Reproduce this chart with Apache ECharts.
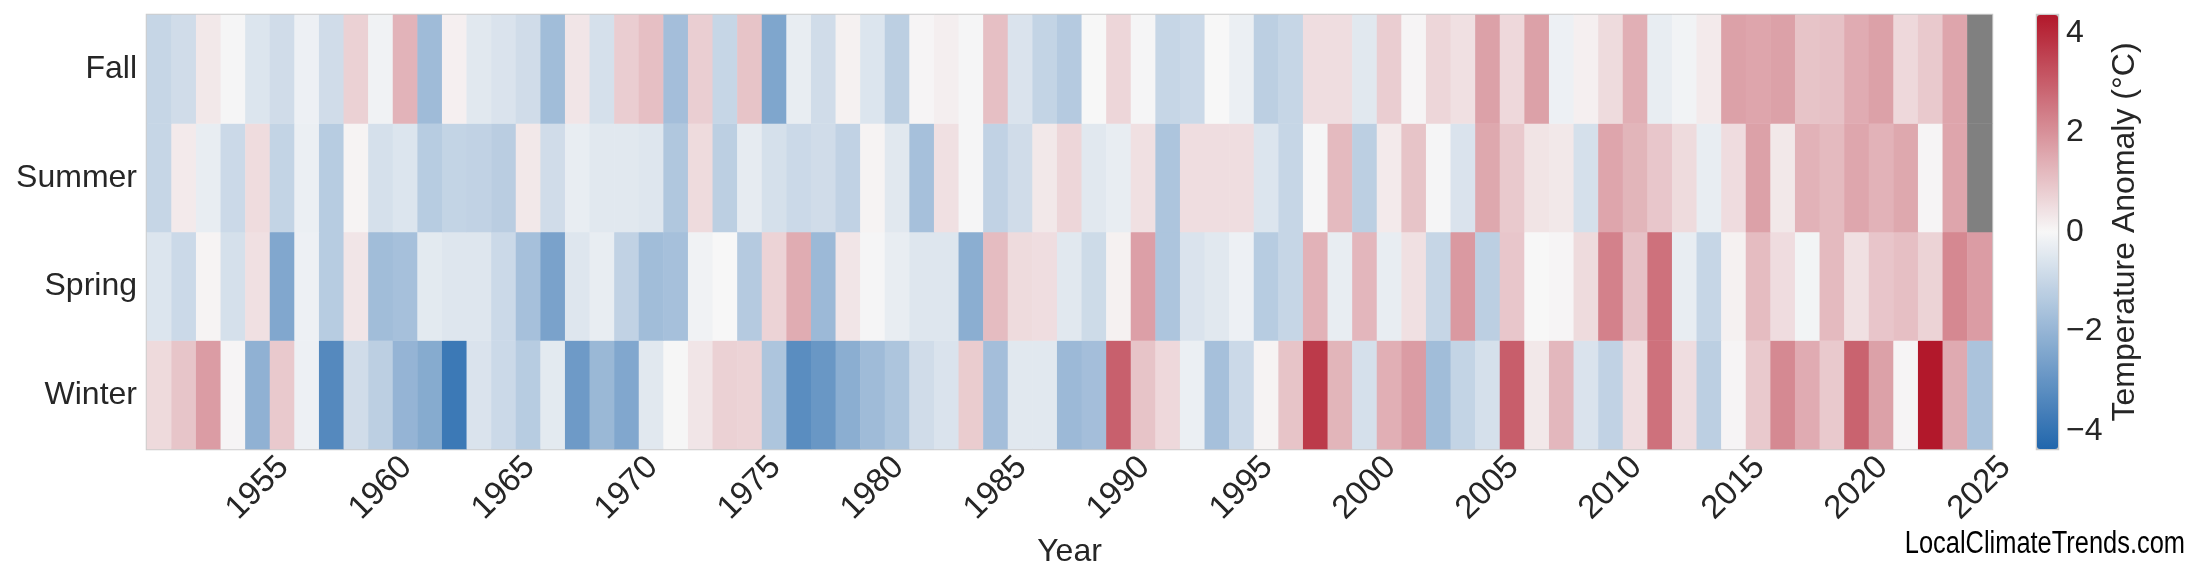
<!DOCTYPE html>
<html>
<head>
<meta charset="utf-8">
<script src="https://cdn.jsdelivr.net/npm/echarts@6/dist/echarts.min.js"></script>
<style>
  html, body { margin: 0; padding: 0; background: #ffffff; }
  #chart { width: 2200px; height: 585px; }
</style>
</head>
<body>
<div id="chart"></div>
<script>
// ---- Data ----
var firstYear = 1951;
var lastYear = 2025;
var seasons = ['Winter', 'Spring', 'Summer', 'Fall']; // bottom to top
var colorbarTicks = [-4, -2, 0, 2, 4];
var anomalyLimit = 4.36;

var fall = [
  -1.0, -0.8, 0.3, -0.05, -0.55, -0.8, -0.2, -0.8, 0.74, -0.15, 1.33, -1.8, 0.15, -0.45, -0.6, -0.8, -1.75, 0.35, -0.7,
  0.82, 1.1, -1.7, 0.8, -1.0, 1.0, -2.45, -0.3, -0.8, 0.12, -0.55, -1.2, 0.05, 0.18, -0.05, 1.1, -0.6, -1.05, -1.35,
  0.0, 0.65, -0.05, -1.0, -0.9, 0.0, -0.25, -1.2, -1.0, 0.5, 0.5, -0.45, 0.82, 0.05, 0.65, 0.45, 1.68, 0.6, 1.68,
  -0.2, 0.15, 0.55, 1.4, -0.3, -0.12, 0.25, 1.68, 1.6, 1.68, 1.0, 1.05, 1.48, 1.68, 0.6, 0.9, 1.6, null
];
var summer = [
  -1.0, 0.25, -0.3, -0.9, 0.53, -1.05, -0.25, -1.3, 0.08, -0.7, -0.55, -1.3, -1.05, -1.1, -1.25, 0.3, -0.8, -0.3, -0.45,
  -0.45, -0.5, -1.45, 0.55, -1.2, -0.35, -0.7, -0.9, -0.8, -1.1, 0.08, -0.45, -1.65, 0.45, -0.05, -1.1, -0.8, 0.3, 0.65,
  -0.45, -0.3, 0.45, -1.5, 0.5, 0.5, 0.5, -0.55, -1.0, -0.05, 1.2, -1.2, 0.25, 1.0, -0.05, -0.6, 1.55, 0.9, 0.38,
  0.3, -0.7, 1.6, 1.3, 0.95, 0.55, -0.3, 0.52, 1.68, 0.3, 1.35, 1.2, 1.58, 1.35, 1.55, 0.05, 1.6, null
];
var spring = [
  -0.55, -0.9, 0.08, -0.7, 0.45, -2.4, -0.2, -1.3, 0.35, -1.75, -1.65, -0.4, -0.5, -0.5, -0.9, -1.65, -2.55, -0.5, -0.3,
  -1.1, -1.75, -1.65, -0.15, 0.0, -1.35, 0.7, 1.47, -1.85, 0.35, -0.05, -0.3, -0.5, -0.5, -2.2, 1.15, 0.55, 0.5, -0.45,
  -0.85, 0.12, 1.72, -1.5, -0.6, -0.45, -0.2, -1.3, -1.0, 1.35, -0.3, 1.27, -0.3, 0.45, -1.0, 1.84, -1.2, 0.95, 0.0,
  0.05, 0.55, 2.3, 1.05, 2.62, -0.3, -1.0, 0.12, 1.15, 0.52, -0.1, 1.2, 0.45, 0.97, 1.1, 0.7, 2.17, 1.78
];
var winter = [
  0.57, 0.98, 1.78, 0.05, -2.1, 0.9, -0.2, -3.3, -0.8, -1.2, -2.0, -2.3, -3.8, -0.6, -0.9, -1.3, -0.4, -2.8, -1.9,
  -2.4, -0.45, -0.03, 0.35, 0.75, 0.7, -1.5, -3.2, -2.9, -2.2, -1.8, -1.5, -0.8, -0.6, 0.85, -1.7, -0.45, -0.45, -1.85,
  -1.7, 2.95, 1.0, 0.6, -0.25, -1.65, -0.9, 0.08, 1.0, 3.7, 1.3, -0.7, 1.4, 1.77, -1.75, -1.05, -0.7, 3.0, 0.3,
  1.25, -0.6, -1.1, 0.5, 2.62, 0.5, -1.2, 0.05, 0.9, 2.15, 1.48, 0.9, 2.9, 1.68, 0.05, 4.36, 1.5, -1.55
];

// ---- Build library structures ----
var years = [];
for (var y = firstYear; y <= lastYear; y++) years.push(String(y));
var bySeason = [winter, spring, summer, fall];
var cells = [];
var missing = [];
bySeason.forEach(function (arr, s) {
  arr.forEach(function (v, i) {
    if (v === null) {
      cells.push([i, s, '-']);
      missing.push([i, s, 0]);
    } else {
      cells.push([i, s, v]);
    }
  });
});

var FONT = '"Liberation Sans", Arial, Helvetica, sans-serif';
var TXT = '#262626';

var chart = echarts.init(document.getElementById('chart'), null, { renderer: 'canvas' });
chart.setOption({
  animation: false,
  backgroundColor: '#ffffff',
  textStyle: { fontFamily: FONT },
  grid: [
    { left: 147, right: 208, top: 15, bottom: 136, show: true, borderColor: '#cccccc', borderWidth: 2.5, backgroundColor: 'transparent', containLabel: false, outerBoundsMode: 'none' },
    { left: 2037, top: 15, width: 21, height: 434, show: true, borderColor: '#cccccc', borderWidth: 2.5, containLabel: false, outerBoundsMode: 'none' }
  ],
  xAxis: [
    {
      type: 'category', gridIndex: 0, data: years, boundaryGap: true,
      axisLine: { show: false }, axisTick: { show: false }, splitLine: { show: false },
      axisLabel: {
        interval: function (idx, val) { return Number(val) % 5 === 0; },
        rotate: 45, align: 'center', verticalAlign: 'middle', margin: 39,
        fontSize: 33, color: TXT, fontFamily: FONT
      },
      name: 'Year', nameLocation: 'middle', nameGap: 87,
      nameTextStyle: { fontSize: 32, color: TXT, fontFamily: FONT }
    },
    { type: 'value', gridIndex: 1, show: false, min: 0, max: 1 }
  ],
  yAxis: [
    {
      type: 'category', gridIndex: 0, data: seasons,
      axisLine: { show: false }, axisTick: { show: false }, splitLine: { show: false },
      axisLabel: { fontSize: 32, color: TXT, margin: 10, fontFamily: FONT }
    },
    {
      type: 'value', gridIndex: 1, position: 'right', min: -anomalyLimit, max: anomalyLimit,
      axisLine: { show: false }, axisTick: { show: false }, splitLine: { show: false },
      axisLabel: {
        customValues: colorbarTicks, margin: 8, fontSize: 32, color: TXT, fontFamily: FONT,
        formatter: function (v) { return v < 0 ? '\u2212' + Math.abs(v) : String(v); }
      },
      name: 'Temperature Anomaly (°C)', nameLocation: 'middle', nameRotate: 90, nameGap: 51,
      nameMoveOverlap: false,
      nameTextStyle: { fontSize: 32, color: TXT, fontFamily: FONT }
    }
  ],
  visualMap: {
    type: 'continuous', seriesIndex: 0, min: -anomalyLimit, max: anomalyLimit,
    calculable: false, hoverLink: false, text: null, showLabel: false,
    orient: 'vertical', left: 2037, top: 15, itemWidth: 21, itemHeight: 434, padding: 0,
    inRange: { color: ['#2166ac', '#f7f7f7', '#b2182b'] }
  },
  series: [
    {
      type: 'heatmap', xAxisIndex: 0, yAxisIndex: 0, data: cells,
      emphasis: { disabled: true }, progressive: 0
    },
    {
      type: 'heatmap', xAxisIndex: 0, yAxisIndex: 0, data: missing,
      itemStyle: { color: '#808080' }, emphasis: { disabled: true }
    }
  ],
  graphic: [
    {
      type: 'text', x: 2185, y: 529, scaleX: 0.82,
      style: { text: 'LocalClimateTrends.com', align: 'right', verticalAlign: 'top', font: '31px "Liberation Sans", Arial, sans-serif', fill: '#000000' }
    }
  ]
});
</script>
</body>
</html>
